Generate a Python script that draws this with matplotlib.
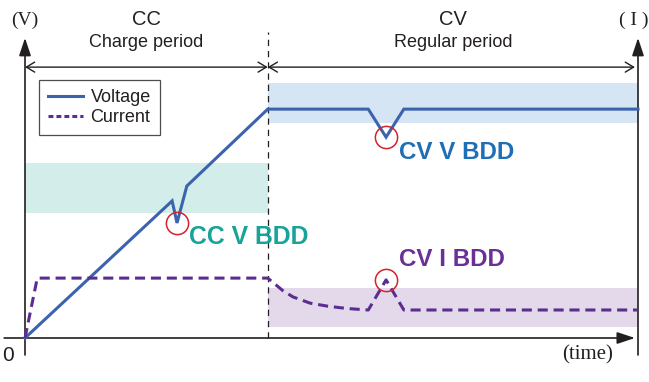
import matplotlib
matplotlib.use("Agg")
import matplotlib.pyplot as plt
from matplotlib.lines import Line2D

# ---- data (time in % of window, level in arbitrary units) ----
volt_t = [0, 24.0, 24.8, 26.4, 39.6, 56.0, 58.9, 61.8, 100]
volt_v = [0, 46.0, 38.6, 51.0, 76.8, 76.8, 67.4, 76.8, 76.8]
curr_t = [0, 2.0, 39.6, 42.0, 43.7, 46.5, 49.3, 52.5, 56.0, 58.9, 61.8, 100]
curr_v = [0, 20.1, 20.1, 16.0, 13.8, 11.7, 10.7, 9.9, 9.4, 19.5, 9.4, 9.4]
t_switch = 39.6
cc_band = (41.9, 58.7)      # CC V band (low, high)
cvv_band = (72.1, 85.6)     # CV V band
cvi_band = (3.7, 16.8)      # CV I band
bdd_t = [24.8, 58.9, 58.9]
bdd_v = [38.6, 67.4, 19.5]
bdd_labels = ["CC V BDD", "CV V BDD", "CV I BDD"]

BLUE = "#3b63ae"
PURPLE = "#5c2d90"
RED = "#d2232f"
INK = "#231f20"

W, H = 649, 382
fig = plt.figure(figsize=(W / 100, H / 100), dpi=100)
x0, x1, y0, y1 = 25, 638, 338, 40
ax = fig.add_axes([x0 / W, (H - y0) / H, (x1 - x0) / W, (y0 - y1) / H])
ax.set_xlim(0, 100)
ax.set_ylim(0, 100)
ax.axis("off")

SANS = ["Liberation Sans", "DejaVu Sans"]
SERIF = ["Liberation Serif", "DejaVu Serif"]

# bands
ax.fill_between([0, t_switch], cc_band[0], cc_band[1], color="#d3eeea", lw=0, zorder=1)
ax.fill_between([t_switch, 100], cvv_band[0], cvv_band[1], color="#d5e5f3", lw=0, zorder=1)
ax.fill_between([t_switch, 100], cvi_band[0], cvi_band[1], color="#e3d9eb", lw=0, zorder=1)

# divider
ax.plot([t_switch, t_switch], [0, 102.7], color=INK, lw=0.9, ls=(0, (5, 4)),
        clip_on=False, zorder=2)

# curves
ax.plot(volt_t, volt_v, color=BLUE, lw=2.2, solid_joinstyle="miter", zorder=4,
        clip_on=False, label="Voltage")
ax.plot(curr_t, curr_v, color=PURPLE, lw=2.2, ls=(0, (3.3, 1.9)), zorder=4,
        clip_on=False, label="Current")

# BDD circles
ax.plot(bdd_t, bdd_v, ls="none", marker="o", ms=16, mfc="none", mec=RED, mew=1.1,
        zorder=5, clip_on=False)

# labels for BDD
ax.text(26.7, 33.9, bdd_labels[0], color="#17a398", fontsize=17.8, fontweight="bold",
        family=SANS, va="center", ha="left")
ax.text(61.0, 62.1, bdd_labels[1], color="#1f6fb5", fontsize=17.4, fontweight="bold",
        family=SANS, va="center", ha="left")
ax.text(61.0, 26.2, bdd_labels[2], color="#6a3096", fontsize=17.4, fontweight="bold",
        family=SANS, va="center", ha="left")

# axes arrows
arrow_kw = dict(arrowstyle="-|>,head_length=0.9,head_width=0.3", color=INK, lw=1.2,
                shrinkA=0, shrinkB=0, mutation_scale=12)
ax.annotate("", xy=(0, 100.7), xytext=(0, -5.7), arrowprops=arrow_kw, annotation_clip=False)
ax.annotate("", xy=(100, 100.7), xytext=(100, -5.7), arrowprops=arrow_kw, annotation_clip=False)
ax.annotate("", xy=(99.5, 0), xytext=(-3.4, 0), arrowprops=arrow_kw, annotation_clip=False)

# period arrows
per_kw = dict(arrowstyle="<->,head_length=0.5,head_width=0.3", color=INK, lw=1.0,
              shrinkA=0, shrinkB=0, mutation_scale=12)
ax.annotate("", xy=(0, 90.9), xytext=(t_switch, 90.9), arrowprops=per_kw, annotation_clip=False)
ax.annotate("", xy=(t_switch, 90.9), xytext=(99.5, 90.9), arrowprops=per_kw, annotation_clip=False)

# period titles
ax.text(t_switch / 2, 106.9, "CC", fontsize=14.5, family=SANS, ha="center", va="center",
        color=INK)
ax.text(t_switch / 2, 99.0, "Charge period", fontsize=13, family=SANS, ha="center",
        va="center", color=INK)
ax.text((t_switch + 100) / 2, 106.9, "CV", fontsize=14.5, family=SANS, ha="center",
        va="center", color=INK)
ax.text((t_switch + 100) / 2, 99.0, "Regular period", fontsize=13, family=SANS,
        ha="center", va="center", color=INK)

# axis labels
ax.text(0, 106.7, "(V)", fontsize=14, family=SERIF, ha="center", va="center", color=INK)
ax.text(101.7, 106.7, "( I )", fontsize=14, family=SERIF, ha="right", va="center", color=INK)
ax.text(-2.8, -5.9, "0", fontsize=15, family=SANS, ha="center", va="center", color=INK)
ax.text(91.8, -5.7, "(time)", fontsize=15, family=SERIF, ha="center", va="center", color=INK)

# legend
handles = [Line2D([], [], color=BLUE, lw=2.2),
           Line2D([], [], color=PURPLE, lw=2.2, ls=(0, (1.6, 1.0)))]
leg = ax.legend(handles, ["Voltage", "Current"], loc="upper left",
                bbox_to_anchor=(39 / W, (H - 80) / H), bbox_transform=fig.transFigure,
                prop={"family": SANS, "size": 13}, frameon=True, fancybox=False,
                handlelength=1.95, handletextpad=0.4, labelspacing=0.18,
                borderpad=0.5, borderaxespad=0)
leg.get_frame().set_edgecolor(INK)
leg.get_frame().set_linewidth(0.9)
for t in leg.get_texts():
    t.set_color(INK)

fig.savefig("out.png", dpi=100)
